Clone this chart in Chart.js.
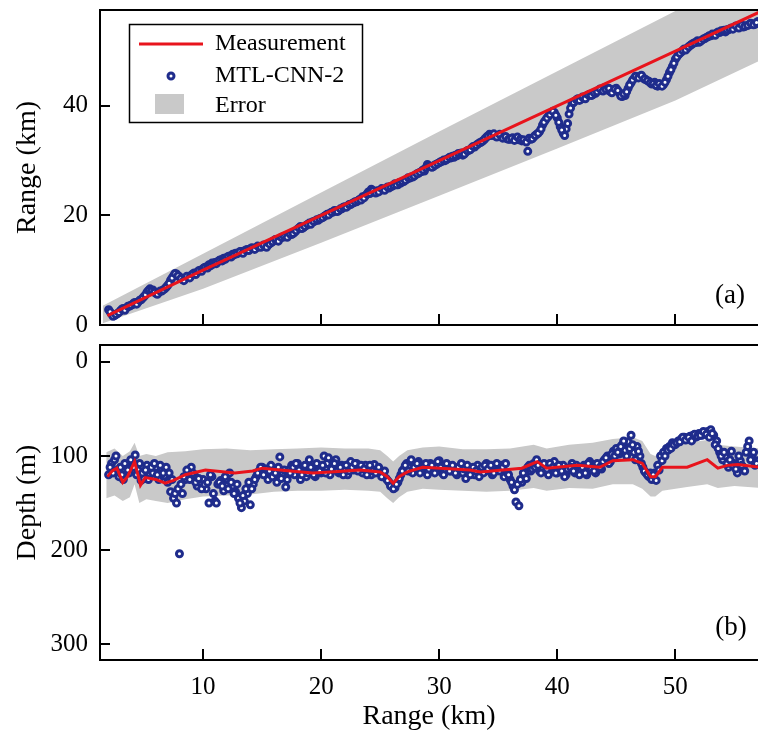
<!DOCTYPE html>
<html>
<head>
<meta charset="utf-8">
<script src="https://cdn.jsdelivr.net/npm/chart.js@4.4.1/dist/chart.umd.min.js"></script>
<style>
  html, body { margin: 0; padding: 0; background: #fff; overflow: hidden; }
  #top { position: absolute; left: 0; top: 0; }
  #bottom { position: absolute; left: 0; top: 335px; }
</style>
</head>
<body>
<canvas id="top" width="758" height="335"></canvas>
<canvas id="bottom" width="758" height="398"></canvas>
<script>
// sample positions (km) of the MTL-CNN-2 estimates
const sampleRange = [
  2, 2.25, 2.5, 2.75, 3, 3.25, 3.5, 3.75, 4, 4.25, 4.5, 4.75, 5, 5.25, 5.5, 5.75,
  6, 6.25, 6.5, 6.75, 7, 7.25, 7.5, 7.75, 8, 8.25, 8.5, 8.75, 9, 9.25, 9.5, 9.75,
  10, 10.25, 10.5, 10.75, 11, 11.25, 11.5, 11.75, 12, 12.25, 12.5, 12.75, 13, 13.25, 13.5, 13.75,
  14, 14.25, 14.5, 14.75, 15, 15.25, 15.5, 15.75, 16, 16.25, 16.5, 16.75, 17, 17.25, 17.5, 17.75,
  18, 18.25, 18.5, 18.75, 19, 19.25, 19.5, 19.75, 20, 20.25, 20.5, 20.75, 21, 21.25, 21.5, 21.75,
  22, 22.25, 22.5, 22.75, 23, 23.25, 23.5, 23.75, 24, 24.25, 24.5, 24.75, 25, 25.25, 25.5, 25.75,
  26, 26.25, 26.5, 26.75, 27, 27.25, 27.5, 27.75, 28, 28.25, 28.5, 28.75, 29, 29.25, 29.5, 29.75,
  30, 30.25, 30.5, 30.75, 31, 31.25, 31.5, 31.75, 32, 32.25, 32.5, 32.75, 33, 33.25, 33.5, 33.75,
  34, 34.25, 34.5, 34.75, 35, 35.25, 35.5, 35.75, 36, 36.25, 36.5, 36.75, 37, 37.25, 37.5, 37.75,
  38, 38.25, 38.5, 38.75, 39, 39.25, 39.5, 39.75, 40, 40.25, 40.5, 40.75, 41, 41.25, 41.5, 41.75,
  42, 42.25, 42.5, 42.75, 43, 43.25, 43.5, 43.75, 44, 44.25, 44.5, 44.75, 45, 45.25, 45.5, 45.75,
  46, 46.25, 46.5, 46.75, 47, 47.25, 47.5, 47.75, 48, 48.25, 48.5, 48.75, 49, 49.25, 49.5, 49.75,
  50, 50.25, 50.5, 50.75, 51, 51.25, 51.5, 51.75, 52, 52.25, 52.5, 52.75, 53, 53.25, 53.5, 53.75,
  54, 54.25, 54.5, 54.75, 55, 55.25, 55.5, 55.75, 56, 56.25, 56.5, 56.75, 57
];

// estimated range (km)
const predRange = [
  2.8, 2.0, 1.7, 2.1, 2.6, 3.0, 3.1, 3.4, 3.7, 4.1, 4.2, 4.6, 5.2, 6.0, 6.6, 6.4,
  5.8, 5.9, 6.2, 6.6, 7.2, 8.2, 9.0, 9.3, 8.8, 8.3, 8.5, 8.7, 9.1, 9.5, 9.6, 10.0,
  10.3, 10.6, 11.0, 11.3, 11.4, 11.6, 11.9, 12.2, 12.3, 12.6, 12.9, 13.1, 13.2, 13.4, 13.5, 13.8,
  13.9, 14.0, 14.1, 14.3, 14.3, 14.5, 14.6, 15.0, 15.4, 15.5, 15.8, 16.0, 16.2, 16.4, 16.5, 16.9,
  17.5, 18.0, 17.8, 18.2, 18.6, 18.8, 19.0, 19.1, 19.5, 19.8, 20.2, 20.4, 20.6, 20.8, 20.9, 21.2,
  21.6, 21.7, 22.0, 22.3, 22.5, 22.9, 23.4, 23.6, 24.3, 24.8, 24.3, 24.5, 24.6, 24.8, 24.9, 25.0,
  25.3, 25.8, 25.6, 25.9, 26.2, 26.6, 26.8, 27.0, 27.4, 27.7, 28.0, 28.1, 29.3, 29.0, 28.9, 29.3,
  29.6, 29.9, 30.0, 30.4, 30.5, 30.6, 30.9, 31.2, 31.0, 31.5, 31.9, 32.3, 32.5, 33.0, 33.3, 33.7,
  34.3, 34.8, 34.7, 34.5, 34.6, 34.4, 34.2, 34.0, 33.9, 34.2, 34.0, 33.8, 33.6, 33.7, 31.7, 33.9,
  34.3, 34.8, 35.3, 36.5, 37.4, 38.1, 38.7, 38.8, 37.8, 36.2, 35.0, 35.8, 38.5, 40.4, 40.9, 41.3,
  41.2, 41.4, 41.8, 42.1, 42.0, 42.3, 42.8, 43.0, 43.3, 42.9, 42.6, 42.9, 43.2, 42.4, 41.7, 41.9,
  43.2, 44.2, 45.0, 45.3, 45.4, 45.2, 44.8, 44.5, 44.0, 44.3, 43.6, 43.9, 43.9, 44.8, 46.1, 47.2,
  48.5, 49.3, 49.8, 50.4, 50.5, 51.0, 51.4, 51.6, 51.6, 52.0, 52.3, 52.6, 52.8, 53.0, 53.3, 53.4,
  53.6, 53.5, 53.9, 54.2, 54.3, 54.5, 54.6, 54.4, 54.6, 54.8, 55.0, 54.9, 55.4
];

// estimated depth (m)
const predDepth = [
  120, 108, 104, 115, 112, 125, 110, 118, 105, 99, 115, 126, 124, 110, 120, 118,
  112, 125, 115, 121, 128, 138, 145, 150, 204, 140, 125, 118, 112, 120, 132, 128,
  125, 135, 150, 122, 148, 130, 126, 137, 125, 118, 132, 138, 145, 155, 148, 140,
  152, 130, 122, 116, 112, 118, 125, 110, 122, 128, 101, 118, 133, 115, 110, 120,
  108, 125, 118, 122, 104, 115, 122, 110, 118, 100, 108, 120, 112, 104, 118, 110,
  114, 120, 106, 115, 108, 112, 118, 110, 114, 120, 109, 117, 118, 120, 124, 128,
  132, 134, 128, 120, 114, 108, 112, 118, 110, 106, 115, 112, 120, 108, 116, 112,
  105, 118, 114, 110, 116, 112, 120, 114, 118, 124, 112, 116, 120, 110, 114, 118,
  108, 116, 120, 112, 114, 110, 122, 118, 125, 132, 149, 153, 128, 120, 112, 116,
  108, 104, 116, 112, 110, 120, 114, 106, 118, 112, 110, 120, 114, 108, 118, 112,
  116, 110, 120, 106, 112, 118, 110, 114, 104, 100, 106, 95, 92, 98, 88, 94,
  85, 78, 96, 90, 100, 112, 118, 122, 125, 118, 110, 100, 96, 92, 90, 86,
  88, 84, 82, 80, 82, 79, 78, 80, 76, 78, 75, 74, 72, 78, 84, 96,
  104, 100, 112, 95, 108, 118, 105, 112, 96, 84, 100, 110, 105
];

// second, interleaved set of samples
const sampleRange2 = [
  2.125, 2.375, 2.625, 2.875, 3.125, 3.375, 3.625, 3.875, 4.125, 4.375, 4.625, 4.875,
  5.125, 5.375, 5.625, 5.875, 6.125, 6.375, 6.625, 6.875, 7.125, 7.375, 7.625, 7.875,
  8.125, 8.375, 8.625, 8.875, 9.125, 9.375, 9.625, 9.875, 10.125, 10.375, 10.625, 10.875,
  11.125, 11.375, 11.625, 11.875, 12.125, 12.375, 12.625, 12.875, 13.125, 13.375, 13.625, 13.875,
  14.125, 14.375, 14.625, 14.875, 15.125, 15.375, 15.625, 15.875, 16.125, 16.375, 16.625, 16.875,
  17.125, 17.375, 17.625, 17.875, 18.125, 18.375, 18.625, 18.875, 19.125, 19.375, 19.625, 19.875,
  20.125, 20.375, 20.625, 20.875, 21.125, 21.375, 21.625, 21.875, 22.125, 22.375, 22.625, 22.875,
  23.125, 23.375, 23.625, 23.875, 24.125, 24.375, 24.625, 24.875, 25.125, 25.375, 25.625, 25.875,
  26.125, 26.375, 26.625, 26.875, 27.125, 27.375, 27.625, 27.875, 28.125, 28.375, 28.625, 28.875,
  29.125, 29.375, 29.625, 29.875, 30.125, 30.375, 30.625, 30.875, 31.125, 31.375, 31.625, 31.875,
  32.125, 32.375, 32.625, 32.875, 33.125, 33.375, 33.625, 33.875, 34.125, 34.375, 34.625, 34.875,
  35.125, 35.375, 35.625, 35.875, 36.125, 36.375, 36.625, 36.875, 37.125, 37.375, 37.625, 37.875,
  38.125, 38.375, 38.625, 38.875, 39.125, 39.375, 39.625, 39.875, 40.125, 40.375, 40.625, 40.875,
  41.125, 41.375, 41.625, 41.875, 42.125, 42.375, 42.625, 42.875, 43.125, 43.375, 43.625, 43.875,
  44.125, 44.375, 44.625, 44.875, 45.125, 45.375, 45.625, 45.875, 46.125, 46.375, 46.625, 46.875,
  47.125, 47.375, 47.625, 47.875, 48.125, 48.375, 48.625, 48.875, 49.125, 49.375, 49.625, 49.875,
  50.125, 50.375, 50.625, 50.875, 51.125, 51.375, 51.625, 51.875, 52.125, 52.375, 52.625, 52.875,
  53.125, 53.375, 53.625, 53.875, 54.125, 54.375, 54.625, 54.875, 55.125, 55.375, 55.625, 55.875,
  56.125, 56.375, 56.625, 56.875
];

const predRange2 = [
  2.4, 1.6, 1.9, 2.3, 2.9, 2.7, 3.4, 3.6, 4.0, 3.8, 4.5, 4.9,
  5.5, 6.3, 6.2, 6.0, 5.6, 6.2, 6.4, 6.9, 7.6, 8.6, 9.4, 9.0,
  8.5, 8.1, 8.9, 8.6, 9.3, 9.2, 9.9, 9.8, 10.5, 10.4, 10.8, 11.1,
  11.2, 11.8, 11.7, 12.0, 12.5, 12.4, 12.8, 13.0, 13.4, 13.1, 13.7, 13.6,
  14.1, 13.8, 14.4, 14.2, 14.6, 14.2, 14.8, 15.2, 15.6, 15.3, 16.0, 16.2,
  16.0, 16.6, 16.7, 17.2, 17.7, 17.6, 18.0, 18.4, 18.4, 18.9, 19.2, 19.4,
  19.6, 20.0, 20.1, 20.6, 20.9, 20.7, 21.2, 21.5, 21.5, 22.0, 22.2, 22.5,
  22.7, 22.8, 23.2, 23.9, 24.0, 24.5, 24.1, 24.3, 24.9, 24.6, 25.2, 25.3,
  25.5, 25.6, 26.0, 26.2, 26.4, 26.9, 27.0, 27.2, 27.6, 27.9, 28.3, 28.7,
  29.0, 28.8, 29.2, 29.5, 29.8, 30.1, 30.2, 30.6, 30.8, 31.0, 31.3, 31.4,
  31.2, 31.8, 32.0, 32.6, 32.8, 33.2, 33.5, 34.0, 34.5, 34.6, 34.9, 34.3,
  34.8, 34.1, 34.4, 33.9, 34.1, 33.7, 34.3, 33.9, 33.8, 33.4, 34.1, 34.0,
  34.6, 35.0, 35.8, 37.0, 37.8, 38.4, 39.0, 38.3, 37.0, 35.6, 34.6, 36.8,
  39.6, 40.6, 41.1, 41.0, 41.6, 41.3, 42.0, 41.9, 42.4, 42.6, 43.1, 42.7,
  43.0, 43.2, 42.4, 43.1, 42.8, 41.8, 42.2, 42.6, 43.8, 44.7, 45.4, 45.1,
  45.6, 44.9, 44.6, 44.2, 44.1, 43.7, 44.1, 43.6, 44.3, 45.4, 46.6, 47.8,
  48.9, 49.6, 50.1, 50.2, 50.8, 51.2, 51.5, 51.9, 51.8, 52.2, 52.5, 52.8,
  53.1, 52.9, 53.5, 53.7, 53.8, 53.9, 54.1, 54.0, 54.6, 54.2, 54.8, 54.5,
  54.7, 55.1, 54.8, 55.2
];

const predDepth2 = [
  112, 118, 100, 122, 120, 108, 115, 104, 112, 120, 108, 118,
  115, 125, 112, 108, 120, 110, 118, 112, 118, 125, 140, 135,
  130, 122, 115, 125, 118, 128, 124, 135, 130, 128, 120, 140,
  150, 128, 132, 122, 135, 128, 140, 130, 150, 142, 135, 128,
  135, 125, 118, 112, 120, 114, 116, 122, 118, 112, 124, 115,
  125, 118, 112, 108, 115, 120, 110, 118, 112, 120, 108, 116,
  110, 118, 102, 114, 108, 116, 112, 120, 110, 116, 112, 108,
  116, 110, 114, 120, 110, 116, 118, 112, 122, 116, 126, 132,
  135, 130, 124, 116, 110, 116, 104, 112, 108, 118, 112, 108,
  114, 110, 118, 106, 112, 120, 108, 116, 110, 118, 112, 108,
  114, 110, 120, 112, 116, 122, 112, 110, 114, 110, 118, 108,
  116, 112, 108, 120, 128, 136, 130, 125, 118, 124, 110, 114,
  112, 110, 118, 108, 114, 108, 112, 118, 110, 116, 122, 114,
  112, 116, 110, 120, 112, 118, 108, 114, 116, 108, 112, 106,
  102, 108, 98, 100, 96, 90, 84, 100, 92, 88, 104, 95,
  108, 116, 120, 118, 120, 126, 115, 105, 100, 94, 92, 88,
  86, 85, 80, 83, 80, 84, 77, 79, 78, 74, 77, 80,
  76, 88, 92, 100, 96, 108, 104, 110, 114, 100, 110, 116,
  90, 104, 96, 108
];

// measured range (a)
const measRangeX = [1.9, 10, 20, 30, 40, 50, 57.5];
const measRange = [1.7, 10, 20, 30, 40, 50, 57.5];

// error band (a)
const bandRangeX = [1.5, 10, 20, 30, 40, 50, 57.5];
const bandRangeHi = [3.5, 13.0, 24.2, 35.3, 46.3, 57.3, 65];
const bandRangeLo = [0.3, 6.6, 15.0, 23.6, 32.2, 41.0, 48.6];

// measured depth (b)
const measDepthX = [1.9, 2.3, 2.7, 3.2, 3.6, 4.2, 4.7, 5.1, 6.0, 6.8, 7.5, 8.5, 10.2, 12.7, 14.2,
  15.0, 17.4, 19.3, 20.8, 23.3, 25.0, 25.6, 26.1, 26.6, 27.3, 28.6, 30.1, 32.6, 33.5, 35.4,
  37.0, 38.3, 39.1, 41.7, 43.6, 44.7, 46.4, 47.2, 47.9, 48.3, 48.9, 51.0, 52.7, 53.6, 54.4, 55.3, 57.2];
const measDepth = [122, 116, 113, 128, 122, 106, 131, 123, 125, 129, 126, 120, 115, 118, 116,
  113, 116, 118, 117, 115, 117, 122, 129, 122, 117, 112, 113, 115, 117, 115,
  113, 106, 113, 110, 112, 105, 104, 108, 122, 122, 112, 112, 104, 113, 110, 109, 112];

// error band (b)
const bandDepthX = [1.8, 2.5, 3.2, 3.8, 4.2, 4.6, 5.2, 6.0, 7.0, 8.5, 10.0, 12.0, 14.0, 16.0, 18.0,
  20.0, 22.0, 24.0, 25.0, 25.6, 26.1, 26.6, 27.3, 28.6, 30.0, 32.0, 34.0, 36.0, 38.0, 39.1,
  41.0, 43.0, 44.7, 46.4, 47.2, 47.9, 48.3, 48.9, 51.0, 52.7, 53.6, 55.0, 57.2];
const bandDepthHi = [96, 92, 100, 95, 86, 100, 98, 100, 96, 95, 93, 92, 94, 93, 92,
  91, 92, 92, 94, 100, 106, 100, 94, 91, 90, 93, 93, 92, 88, 92,
  88, 86, 82, 80, 84, 98, 100, 92, 86, 83, 88, 90, 92];
const bandDepthLo = [145, 142, 148, 144, 130, 150, 146, 148, 150, 146, 143, 142, 141, 138, 137,
  137, 136, 137, 138, 145, 150, 144, 138, 135, 136, 137, 138, 137, 134, 137,
  134, 135, 130, 130, 135, 143, 143, 137, 133, 130, 134, 132, 134];

const xTicks = [10, 20, 30, 40, 50];

const FONT = '"Liberation Serif", "Times New Roman", serif';
const RED = '#e8141c';
const BLUE = '#1f2c8c';
const GREY = '#c9c9c9';

const pts = (xs, ys) => xs.map((x, i) => ({ x: x, y: ys[i] }));

// frame + inward tick marks
const frame = {
  id: 'frame',
  afterDatasetsDraw(chart) {
    const { ctx, chartArea: a, scales } = chart;
    ctx.save();
    ctx.strokeStyle = '#000';
    ctx.lineWidth = 2;
    ctx.beginPath();
    ctx.moveTo(a.right + 2, a.top);
    ctx.lineTo(a.left, a.top);
    ctx.lineTo(a.left, a.bottom);
    ctx.lineTo(a.right + 2, a.bottom);
    scales.x.ticks.forEach(t => {
      const px = Math.round(scales.x.getPixelForValue(t.value));
      ctx.moveTo(px, a.bottom);
      ctx.lineTo(px, a.bottom - 11);
    });
    scales.y.ticks.forEach(t => {
      const py = Math.round(scales.y.getPixelForValue(t.value));
      if (py > a.bottom - 3) return;
      ctx.moveTo(a.left, py);
      ctx.lineTo(a.left + 10, py);
    });
    ctx.stroke();
    ctx.restore();
  }
};

const panelLabel = {
  id: 'panelLabel',
  afterDraw(chart, args, opts) {
    const { ctx } = chart;
    ctx.save();
    ctx.font = '27px ' + FONT;
    ctx.fillStyle = '#000';
    ctx.textAlign = 'center';
    ctx.textBaseline = 'middle';
    ctx.fillText(opts.text, opts.x, opts.y);
    ctx.restore();
  }
};

const legendBox = {
  id: 'legendBox',
  afterDraw(chart) {
    const { ctx } = chart;
    ctx.save();
    ctx.fillStyle = '#fff';
    ctx.fillRect(129, 24, 233, 98);
    ctx.strokeStyle = '#000';
    ctx.lineWidth = 1.5;
    ctx.strokeRect(129.5, 24.5, 233, 98);
    // line
    ctx.strokeStyle = RED;
    ctx.lineWidth = 3;
    ctx.beginPath();
    ctx.moveTo(139, 44);
    ctx.lineTo(203, 44);
    ctx.stroke();
    // marker
    ctx.strokeStyle = BLUE;
    ctx.lineWidth = 3;
    ctx.fillStyle = '#fff';
    ctx.beginPath();
    ctx.arc(171, 76, 3, 0, Math.PI * 2);
    ctx.fill();
    ctx.stroke();
    // band
    ctx.fillStyle = GREY;
    ctx.fillRect(155, 94, 29, 20);
    ctx.fillStyle = '#000';
    ctx.font = '24px ' + FONT;
    ctx.textBaseline = 'middle';
    ctx.fillText('Measurement', 215, 44);
    ctx.fillText('MTL-CNN-2', 215, 76);
    ctx.fillText('Error', 215, 106);
    ctx.restore();
  }
};

function makeChart(id, cfg) {
  const scatter = pts(sampleRange, cfg.pred).concat(pts(sampleRange2, cfg.pred2));
  return new Chart(document.getElementById(id), {
    type: 'scatter',
    data: {
      datasets: [
        { data: pts(cfg.bandX, cfg.bandHi), showLine: true, borderWidth: 0, pointRadius: 0, fill: false, order: 3 },
        { data: pts(cfg.bandX, cfg.bandLo), showLine: true, borderWidth: 0, pointRadius: 0, fill: '-1', backgroundColor: GREY, order: 3 },
        { data: scatter, pointRadius: 3, pointBorderWidth: 3, pointBorderColor: BLUE, pointBackgroundColor: '#fff', order: 2 },
        { data: pts(cfg.measX, cfg.meas), showLine: true, borderColor: RED, borderWidth: 3, pointRadius: 0, fill: false, order: 1 }
      ]
    },
    options: {
      responsive: false,
      animation: false,
      devicePixelRatio: 1,
      events: [],
      layout: { padding: { top: 10, left: 0, right: 0, bottom: 0 }, autoPadding: false },
      plugins: {
        legend: { display: false },
        tooltip: { enabled: false },
        panelLabel: cfg.label
      },
      scales: {
        x: {
          type: 'linear',
          min: 1.27,
          max: 57,
          afterBuildTicks: s => { s.ticks = xTicks.map(v => ({ value: v })); },
          afterFit: s => { s.height = cfg.xHeight; s.paddingLeft = 0; s.paddingRight = 0; },
          grid: { display: false, drawTicks: false },
          border: { display: false },
          ticks: { display: cfg.showX, padding: 12, color: '#000', font: { family: FONT, size: 25 } },
          title: { display: cfg.showX, text: 'Range (km)', color: '#000', padding: 0, font: { family: FONT, size: 28 } }
        },
        y: {
          type: 'linear',
          min: cfg.yMin,
          max: cfg.yMax,
          reverse: cfg.reverse,
          afterBuildTicks: s => { s.ticks = cfg.yTicks.map(v => ({ value: v })); },
          afterFit: s => { s.width = 100; s.paddingTop = 0; s.paddingBottom = 0; },
          grid: { display: false, drawTicks: false },
          border: { display: false },
          ticks: { padding: 12, color: '#000', font: { family: FONT, size: 25 } },
          title: { display: true, text: cfg.yTitle, color: '#000', padding: { top: 11 }, font: { family: FONT, size: 28 } }
        }
      }
    },
    plugins: cfg.extra.concat([frame, panelLabel])
  });
}

makeChart('top', {
  bandX: bandRangeX, bandHi: bandRangeHi, bandLo: bandRangeLo,
  pred: predRange, pred2: predRange2, measX: measRangeX, meas: measRange,
  yMin: 0, yMax: 57.5, reverse: false, yTicks: [0, 20, 40], yTitle: 'Range (km)',
  showX: false, xHeight: 10,
  label: { text: '(a)', x: 730, y: 296 },
  extra: [legendBox]
});

makeChart('bottom', {
  bandX: bandDepthX, bandHi: bandDepthHi, bandLo: bandDepthLo,
  pred: predDepth, pred2: predDepth2, measX: measDepthX, meas: measDepth,
  yMin: -18, yMax: 317, reverse: true, yTicks: [0, 100, 200, 300], yTitle: 'Depth (m)',
  showX: true, xHeight: 73,
  label: { text: '(b)', x: 731, y: 293 },
  extra: []
});
</script>
</body>
</html>
